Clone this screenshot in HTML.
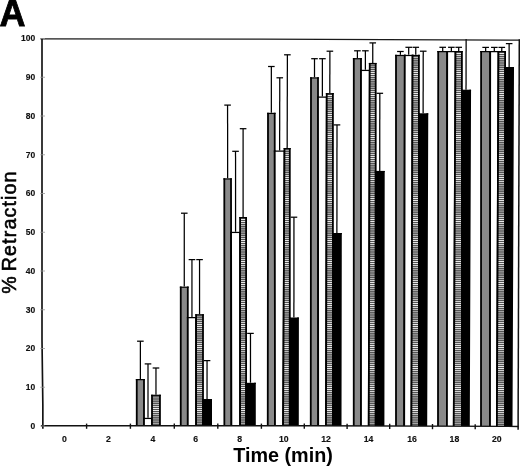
<!DOCTYPE html><html><head><meta charset="utf-8"><style>
html,body{margin:0;padding:0;background:#fff;}
body{width:520px;height:467px;overflow:hidden;}
svg{display:block;}
text{font-family:"Liberation Sans",Arial,sans-serif;}
</style></head><body>
<svg width="520" height="467" viewBox="0 0 520 467">
<defs><pattern id="stripes" patternUnits="userSpaceOnUse" width="8" height="2.1"><rect width="8" height="2.1" fill="#141414"/><rect y="0.5" width="8" height="1.1" fill="#f4f4f4"/></pattern></defs>
<polygon points="136.75,426.00 136.75,379.62 144.00,379.62 144.00,426.00" fill="#898989"/>
<path d="M136.75,426.00L136.75,379.00M144.00,426.00L144.00,379.00" stroke="#000" stroke-width="1.8" fill="none"/>
<line x1="135.85" y1="379.62" x2="144.90" y2="379.62" stroke="#000" stroke-width="1.25"/>
<polygon points="144.00,426.00 144.00,418.43 152.00,418.43 152.00,426.00" fill="#ffffff"/>
<path d="M144.00,426.00L144.00,417.80M152.00,426.00L152.00,417.80" stroke="#000" stroke-width="1.8" fill="none"/>
<line x1="143.10" y1="418.43" x2="152.90" y2="418.43" stroke="#000" stroke-width="1.25"/>
<polygon points="152.00,426.00 152.00,395.32 159.95,395.32 159.95,426.00" fill="url(#stripes)"/>
<path d="M152.00,426.00L152.00,394.70M159.95,426.00L159.95,394.70" stroke="#000" stroke-width="1.8" fill="none"/>
<line x1="151.10" y1="395.32" x2="160.85" y2="395.32" stroke="#000" stroke-width="1.25"/>
<polygon points="180.75,426.00 180.75,287.23 187.80,287.23 187.80,426.00" fill="#898989"/>
<path d="M180.75,426.00L180.75,286.60M187.80,426.00L187.80,286.60" stroke="#000" stroke-width="1.8" fill="none"/>
<line x1="179.85" y1="287.23" x2="188.70" y2="287.23" stroke="#000" stroke-width="1.25"/>
<polygon points="187.80,426.00 187.80,317.62 196.10,317.62 196.10,426.00" fill="#ffffff"/>
<path d="M187.80,426.00L187.80,317.00M196.10,426.00L196.10,317.00" stroke="#000" stroke-width="1.8" fill="none"/>
<line x1="186.90" y1="317.62" x2="197.00" y2="317.62" stroke="#000" stroke-width="1.25"/>
<polygon points="196.10,426.00 196.10,314.82 203.00,314.82 203.00,426.00" fill="url(#stripes)"/>
<path d="M196.10,426.00L196.10,314.20M203.00,426.00L203.00,314.20" stroke="#000" stroke-width="1.8" fill="none"/>
<line x1="195.20" y1="314.82" x2="203.90" y2="314.82" stroke="#000" stroke-width="1.25"/>
<polygon points="203.00,426.00 203.00,399.62 211.10,399.62 211.10,426.00" fill="#000000"/>
<path d="M203.00,426.00L203.00,399.00M211.10,426.00L211.10,399.00" stroke="#000" stroke-width="1.8" fill="none"/>
<line x1="202.10" y1="399.62" x2="212.00" y2="399.62" stroke="#000" stroke-width="1.25"/>
<polygon points="224.36,426.00 224.30,178.93 231.00,178.93 231.40,426.00" fill="#898989"/>
<path d="M224.36,426.00L224.30,178.30M231.40,426.00L231.00,178.30" stroke="#000" stroke-width="1.8" fill="none"/>
<line x1="223.40" y1="178.93" x2="231.90" y2="178.93" stroke="#000" stroke-width="1.25"/>
<polygon points="231.40,426.00 231.09,232.43 240.10,232.43 240.10,426.00" fill="#ffffff"/>
<path d="M231.40,426.00L231.08,231.80M240.10,426.00L240.10,231.80" stroke="#000" stroke-width="1.8" fill="none"/>
<line x1="230.19" y1="232.43" x2="241.00" y2="232.43" stroke="#000" stroke-width="1.25"/>
<polygon points="240.10,426.00 240.10,217.62 246.10,217.62 246.10,426.00" fill="url(#stripes)"/>
<path d="M240.10,426.00L240.10,217.00M246.10,426.00L246.10,217.00" stroke="#000" stroke-width="1.8" fill="none"/>
<line x1="239.20" y1="217.62" x2="247.00" y2="217.62" stroke="#000" stroke-width="1.25"/>
<polygon points="246.10,426.00 246.10,383.43 254.88,383.43 254.90,426.00" fill="#000000"/>
<path d="M246.10,426.00L246.10,382.80M254.90,426.00L254.88,382.80" stroke="#000" stroke-width="1.8" fill="none"/>
<line x1="245.20" y1="383.43" x2="255.78" y2="383.43" stroke="#000" stroke-width="1.25"/>
<polygon points="267.75,426.00 268.00,113.42 274.70,113.42 275.00,426.00" fill="#898989"/>
<path d="M267.75,426.00L268.00,112.80M275.00,426.00L274.70,112.80" stroke="#000" stroke-width="1.8" fill="none"/>
<line x1="267.10" y1="113.42" x2="275.60" y2="113.42" stroke="#000" stroke-width="1.25"/>
<polygon points="275.00,426.00 274.74,151.12 284.49,151.12 283.10,426.00" fill="#ffffff"/>
<path d="M275.00,426.00L274.74,150.50M283.10,426.00L284.50,150.50" stroke="#000" stroke-width="1.8" fill="none"/>
<line x1="273.84" y1="151.12" x2="285.39" y2="151.12" stroke="#000" stroke-width="1.25"/>
<polygon points="283.10,426.00 284.51,148.62 289.80,148.62 289.80,426.00" fill="url(#stripes)"/>
<path d="M283.10,426.00L284.51,148.00M289.80,426.00L289.80,148.00" stroke="#000" stroke-width="1.8" fill="none"/>
<line x1="283.61" y1="148.62" x2="290.70" y2="148.62" stroke="#000" stroke-width="1.25"/>
<polygon points="289.80,426.00 289.80,318.12 298.00,318.12 297.90,426.00" fill="#000000"/>
<path d="M289.80,426.00L289.80,317.50M297.90,426.00L298.00,317.50" stroke="#000" stroke-width="1.8" fill="none"/>
<line x1="288.90" y1="318.12" x2="298.90" y2="318.12" stroke="#000" stroke-width="1.25"/>
<polygon points="310.75,426.00 311.00,77.92 318.00,77.92 318.20,426.00" fill="#898989"/>
<path d="M310.75,426.00L311.00,77.30M318.20,426.00L318.00,77.30" stroke="#000" stroke-width="1.8" fill="none"/>
<line x1="310.10" y1="77.92" x2="318.90" y2="77.92" stroke="#000" stroke-width="1.25"/>
<polygon points="318.20,426.00 318.01,97.12 326.75,97.12 326.00,426.00" fill="#ffffff"/>
<path d="M318.20,426.00L318.01,96.50M326.00,426.00L326.75,96.50" stroke="#000" stroke-width="1.8" fill="none"/>
<line x1="317.11" y1="97.12" x2="327.65" y2="97.12" stroke="#000" stroke-width="1.25"/>
<polygon points="326.00,426.00 326.76,93.72 332.90,93.72 332.90,426.00" fill="url(#stripes)"/>
<path d="M326.00,426.00L326.76,93.10M332.90,426.00L332.90,93.10" stroke="#000" stroke-width="1.8" fill="none"/>
<line x1="325.86" y1="93.72" x2="333.80" y2="93.72" stroke="#000" stroke-width="1.25"/>
<polygon points="332.90,426.00 332.90,233.62 340.90,233.62 340.60,426.00" fill="#000000"/>
<path d="M332.90,426.00L332.90,233.00M340.60,426.00L340.90,233.00" stroke="#000" stroke-width="1.8" fill="none"/>
<line x1="332.00" y1="233.62" x2="341.80" y2="233.62" stroke="#000" stroke-width="1.25"/>
<polygon points="353.75,426.00 353.80,58.73 361.00,58.73 361.00,426.00" fill="#898989"/>
<path d="M353.75,426.00L353.80,58.10M361.00,426.00L361.00,58.10" stroke="#000" stroke-width="1.8" fill="none"/>
<line x1="352.90" y1="58.73" x2="361.90" y2="58.73" stroke="#000" stroke-width="1.25"/>
<polygon points="361.00,426.00 361.00,70.42 369.73,70.42 368.75,426.00" fill="#ffffff"/>
<path d="M361.00,426.00L361.00,69.80M368.75,426.00L369.73,69.80" stroke="#000" stroke-width="1.8" fill="none"/>
<line x1="360.10" y1="70.42" x2="370.63" y2="70.42" stroke="#000" stroke-width="1.25"/>
<polygon points="368.75,426.00 369.75,63.52 375.70,63.52 375.70,426.00" fill="url(#stripes)"/>
<path d="M368.75,426.00L369.75,62.90M375.70,426.00L375.70,62.90" stroke="#000" stroke-width="1.8" fill="none"/>
<line x1="368.85" y1="63.52" x2="376.60" y2="63.52" stroke="#000" stroke-width="1.25"/>
<polygon points="375.70,426.00 375.70,171.53 383.80,171.53 383.50,426.00" fill="#000000"/>
<path d="M375.70,426.00L375.70,170.90M383.50,426.00L383.80,170.90" stroke="#000" stroke-width="1.8" fill="none"/>
<line x1="374.80" y1="171.53" x2="384.70" y2="171.53" stroke="#000" stroke-width="1.25"/>
<polygon points="396.00,426.00 396.00,55.48 404.80,55.48 404.20,426.00" fill="#898989"/>
<path d="M396.00,426.00L396.00,54.85M404.20,426.00L404.80,54.85" stroke="#000" stroke-width="1.8" fill="none"/>
<line x1="395.10" y1="55.48" x2="405.70" y2="55.48" stroke="#000" stroke-width="1.25"/>
<polygon points="404.20,426.00 404.80,55.48 412.60,55.48 411.40,426.00" fill="#ffffff"/>
<path d="M404.20,426.00L404.80,54.85M411.40,426.00L412.60,54.85" stroke="#000" stroke-width="1.8" fill="none"/>
<line x1="403.90" y1="55.48" x2="413.50" y2="55.48" stroke="#000" stroke-width="1.25"/>
<polygon points="411.40,426.00 412.60,55.48 418.90,55.48 418.90,426.00" fill="url(#stripes)"/>
<path d="M411.40,426.00L412.60,54.85M418.90,426.00L418.90,54.85" stroke="#000" stroke-width="1.8" fill="none"/>
<line x1="411.70" y1="55.48" x2="419.80" y2="55.48" stroke="#000" stroke-width="1.25"/>
<polygon points="418.90,426.00 418.90,113.92 427.35,113.92 426.30,426.00" fill="#000000"/>
<path d="M418.90,426.00L418.90,113.30M426.30,426.00L427.36,113.30" stroke="#000" stroke-width="1.8" fill="none"/>
<line x1="418.00" y1="113.92" x2="428.25" y2="113.92" stroke="#000" stroke-width="1.25"/>
<polygon points="438.00,426.00 438.20,51.62 447.20,51.62 446.95,426.00" fill="#898989"/>
<path d="M438.00,426.00L438.20,51.00M446.95,426.00L447.20,51.00" stroke="#000" stroke-width="1.8" fill="none"/>
<line x1="437.30" y1="51.62" x2="448.10" y2="51.62" stroke="#000" stroke-width="1.25"/>
<polygon points="446.95,426.00 447.20,51.62 455.52,51.62 453.75,426.00" fill="#ffffff"/>
<path d="M446.95,426.00L447.20,51.00M453.75,426.00L455.52,51.00" stroke="#000" stroke-width="1.8" fill="none"/>
<line x1="446.30" y1="51.62" x2="456.42" y2="51.62" stroke="#000" stroke-width="1.25"/>
<polygon points="453.75,426.00 455.52,51.62 461.90,51.62 461.90,426.00" fill="url(#stripes)"/>
<path d="M453.75,426.00L455.52,51.00M461.90,426.00L461.90,51.00" stroke="#000" stroke-width="1.8" fill="none"/>
<line x1="454.62" y1="51.62" x2="462.80" y2="51.62" stroke="#000" stroke-width="1.25"/>
<polygon points="461.90,426.00 461.90,90.33 470.15,90.33 468.90,426.00" fill="#000000"/>
<path d="M461.90,426.00L461.90,89.70M468.90,426.00L470.16,89.70" stroke="#000" stroke-width="1.8" fill="none"/>
<line x1="461.00" y1="90.33" x2="471.05" y2="90.33" stroke="#000" stroke-width="1.25"/>
<polygon points="481.00,426.00 481.10,51.62 490.20,51.62 490.00,426.00" fill="#898989"/>
<path d="M481.00,426.00L481.10,51.00M490.00,426.00L490.20,51.00" stroke="#000" stroke-width="1.8" fill="none"/>
<line x1="480.20" y1="51.62" x2="491.10" y2="51.62" stroke="#000" stroke-width="1.25"/>
<polygon points="490.00,426.00 490.20,51.62 498.46,51.62 496.90,426.00" fill="#ffffff"/>
<path d="M490.00,426.00L490.20,51.00M496.90,426.00L498.47,51.00" stroke="#000" stroke-width="1.8" fill="none"/>
<line x1="489.30" y1="51.62" x2="499.36" y2="51.62" stroke="#000" stroke-width="1.25"/>
<polygon points="496.90,426.00 498.46,51.62 505.10,51.62 505.10,426.00" fill="url(#stripes)"/>
<path d="M496.90,426.00L498.47,51.00M505.10,426.00L505.10,51.00" stroke="#000" stroke-width="1.8" fill="none"/>
<line x1="497.56" y1="51.62" x2="506.00" y2="51.62" stroke="#000" stroke-width="1.25"/>
<polygon points="505.10,426.00 505.10,67.62 513.11,67.62 511.60,426.00" fill="#000000"/>
<path d="M505.10,426.00L505.10,67.00M511.60,426.00L513.11,67.00" stroke="#000" stroke-width="1.8" fill="none"/>
<line x1="504.20" y1="67.62" x2="514.01" y2="67.62" stroke="#000" stroke-width="1.25"/>
<line x1="140.38" y1="379.00" x2="140.38" y2="341.20" stroke="#000" stroke-width="1.25"/>
<line x1="137.07" y1="341.20" x2="143.68" y2="341.20" stroke="#000" stroke-width="1.25"/>
<line x1="148.00" y1="417.80" x2="148.00" y2="363.90" stroke="#000" stroke-width="1.25"/>
<line x1="144.70" y1="363.90" x2="151.30" y2="363.90" stroke="#000" stroke-width="1.25"/>
<line x1="155.97" y1="394.70" x2="155.97" y2="368.00" stroke="#000" stroke-width="1.25"/>
<line x1="152.67" y1="368.00" x2="159.28" y2="368.00" stroke="#000" stroke-width="1.25"/>
<line x1="184.27" y1="286.60" x2="184.27" y2="213.20" stroke="#000" stroke-width="1.25"/>
<line x1="180.97" y1="213.20" x2="187.57" y2="213.20" stroke="#000" stroke-width="1.25"/>
<line x1="191.95" y1="317.00" x2="191.95" y2="259.60" stroke="#000" stroke-width="1.25"/>
<line x1="188.65" y1="259.60" x2="195.25" y2="259.60" stroke="#000" stroke-width="1.25"/>
<line x1="199.55" y1="314.20" x2="199.55" y2="259.60" stroke="#000" stroke-width="1.25"/>
<line x1="196.25" y1="259.60" x2="202.85" y2="259.60" stroke="#000" stroke-width="1.25"/>
<line x1="207.05" y1="399.00" x2="207.05" y2="360.60" stroke="#000" stroke-width="1.25"/>
<line x1="203.75" y1="360.60" x2="210.35" y2="360.60" stroke="#000" stroke-width="1.25"/>
<line x1="227.65" y1="178.30" x2="227.58" y2="105.10" stroke="#000" stroke-width="1.25"/>
<line x1="224.28" y1="105.10" x2="230.88" y2="105.10" stroke="#000" stroke-width="1.25"/>
<line x1="235.59" y1="231.80" x2="235.53" y2="151.30" stroke="#000" stroke-width="1.25"/>
<line x1="232.23" y1="151.30" x2="238.83" y2="151.30" stroke="#000" stroke-width="1.25"/>
<line x1="243.10" y1="217.00" x2="243.10" y2="128.70" stroke="#000" stroke-width="1.25"/>
<line x1="239.80" y1="128.70" x2="246.40" y2="128.70" stroke="#000" stroke-width="1.25"/>
<line x1="250.49" y1="382.80" x2="250.48" y2="333.40" stroke="#000" stroke-width="1.25"/>
<line x1="247.18" y1="333.40" x2="253.78" y2="333.40" stroke="#000" stroke-width="1.25"/>
<line x1="271.35" y1="112.80" x2="271.35" y2="66.50" stroke="#000" stroke-width="1.25"/>
<line x1="268.05" y1="66.50" x2="274.65" y2="66.50" stroke="#000" stroke-width="1.25"/>
<line x1="279.62" y1="150.50" x2="279.77" y2="77.80" stroke="#000" stroke-width="1.25"/>
<line x1="276.47" y1="77.80" x2="283.07" y2="77.80" stroke="#000" stroke-width="1.25"/>
<line x1="287.16" y1="148.00" x2="287.39" y2="54.80" stroke="#000" stroke-width="1.25"/>
<line x1="284.09" y1="54.80" x2="290.69" y2="54.80" stroke="#000" stroke-width="1.25"/>
<line x1="293.90" y1="317.50" x2="293.95" y2="217.20" stroke="#000" stroke-width="1.25"/>
<line x1="290.65" y1="217.20" x2="297.25" y2="217.20" stroke="#000" stroke-width="1.25"/>
<line x1="314.50" y1="77.30" x2="314.50" y2="58.70" stroke="#000" stroke-width="1.25"/>
<line x1="311.20" y1="58.70" x2="317.80" y2="58.70" stroke="#000" stroke-width="1.25"/>
<line x1="322.38" y1="96.50" x2="322.41" y2="58.70" stroke="#000" stroke-width="1.25"/>
<line x1="319.11" y1="58.70" x2="325.71" y2="58.70" stroke="#000" stroke-width="1.25"/>
<line x1="329.83" y1="93.10" x2="329.88" y2="51.20" stroke="#000" stroke-width="1.25"/>
<line x1="326.58" y1="51.20" x2="333.18" y2="51.20" stroke="#000" stroke-width="1.25"/>
<line x1="336.90" y1="233.00" x2="336.99" y2="124.90" stroke="#000" stroke-width="1.25"/>
<line x1="333.69" y1="124.90" x2="340.29" y2="124.90" stroke="#000" stroke-width="1.25"/>
<line x1="357.40" y1="58.10" x2="357.40" y2="50.80" stroke="#000" stroke-width="1.25"/>
<line x1="354.10" y1="50.80" x2="360.70" y2="50.80" stroke="#000" stroke-width="1.25"/>
<line x1="365.36" y1="69.80" x2="365.39" y2="50.80" stroke="#000" stroke-width="1.25"/>
<line x1="362.09" y1="50.80" x2="368.69" y2="50.80" stroke="#000" stroke-width="1.25"/>
<line x1="372.72" y1="62.90" x2="372.75" y2="42.90" stroke="#000" stroke-width="1.25"/>
<line x1="369.45" y1="42.90" x2="376.05" y2="42.90" stroke="#000" stroke-width="1.25"/>
<line x1="379.75" y1="170.90" x2="379.80" y2="93.30" stroke="#000" stroke-width="1.25"/>
<line x1="376.50" y1="93.30" x2="383.10" y2="93.30" stroke="#000" stroke-width="1.25"/>
<line x1="400.40" y1="54.85" x2="400.40" y2="51.50" stroke="#000" stroke-width="1.25"/>
<line x1="397.10" y1="51.50" x2="403.70" y2="51.50" stroke="#000" stroke-width="1.25"/>
<line x1="408.70" y1="54.85" x2="408.72" y2="47.30" stroke="#000" stroke-width="1.25"/>
<line x1="405.42" y1="47.30" x2="412.02" y2="47.30" stroke="#000" stroke-width="1.25"/>
<line x1="415.75" y1="54.85" x2="415.76" y2="47.30" stroke="#000" stroke-width="1.25"/>
<line x1="412.46" y1="47.30" x2="419.06" y2="47.30" stroke="#000" stroke-width="1.25"/>
<line x1="423.13" y1="113.30" x2="423.23" y2="51.20" stroke="#000" stroke-width="1.25"/>
<line x1="419.93" y1="51.20" x2="426.53" y2="51.20" stroke="#000" stroke-width="1.25"/>
<line x1="442.70" y1="51.00" x2="442.70" y2="47.30" stroke="#000" stroke-width="1.25"/>
<line x1="439.40" y1="47.30" x2="446.00" y2="47.30" stroke="#000" stroke-width="1.25"/>
<line x1="451.36" y1="51.00" x2="451.37" y2="47.30" stroke="#000" stroke-width="1.25"/>
<line x1="448.07" y1="47.30" x2="454.67" y2="47.30" stroke="#000" stroke-width="1.25"/>
<line x1="458.71" y1="51.00" x2="458.72" y2="47.30" stroke="#000" stroke-width="1.25"/>
<line x1="455.42" y1="47.30" x2="462.02" y2="47.30" stroke="#000" stroke-width="1.25"/>
<line x1="466.03" y1="89.70" x2="466.12" y2="39.00" stroke="#000" stroke-width="1.25"/>
<line x1="485.65" y1="51.00" x2="485.65" y2="47.40" stroke="#000" stroke-width="1.25"/>
<line x1="482.35" y1="47.40" x2="488.95" y2="47.40" stroke="#000" stroke-width="1.25"/>
<line x1="494.33" y1="51.00" x2="494.34" y2="47.40" stroke="#000" stroke-width="1.25"/>
<line x1="491.04" y1="47.40" x2="497.64" y2="47.40" stroke="#000" stroke-width="1.25"/>
<line x1="501.78" y1="51.00" x2="501.79" y2="47.40" stroke="#000" stroke-width="1.25"/>
<line x1="498.49" y1="47.40" x2="505.09" y2="47.40" stroke="#000" stroke-width="1.25"/>
<line x1="509.11" y1="67.00" x2="509.16" y2="43.60" stroke="#000" stroke-width="1.25"/>
<line x1="505.86" y1="43.60" x2="512.46" y2="43.60" stroke="#000" stroke-width="1.25"/>
<polyline points="40.5,38.8 260,39.1 519.8,40.15" fill="none" stroke="#1a1a1a" stroke-width="1.35"/>
<line x1="519.3" y1="39.2" x2="518.1" y2="429.7" stroke="#111" stroke-width="1.5"/>
<polyline points="42.0,38.1 42.0,340 42.85,405 42.85,428.8" fill="none" stroke="#111" stroke-width="1.65"/>
<polyline points="41,425.7 310,425.7 518.5,426.4" fill="none" stroke="#111" stroke-width="1.45"/>
<line x1="86.60" y1="423.60" x2="86.60" y2="428.80" stroke="#111" stroke-width="1.4"/>
<line x1="130.40" y1="423.60" x2="130.40" y2="428.80" stroke="#111" stroke-width="1.4"/>
<line x1="174.30" y1="423.60" x2="174.30" y2="428.80" stroke="#111" stroke-width="1.4"/>
<line x1="217.80" y1="423.60" x2="217.80" y2="428.80" stroke="#111" stroke-width="1.4"/>
<line x1="261.40" y1="423.60" x2="261.40" y2="428.80" stroke="#111" stroke-width="1.4"/>
<line x1="304.30" y1="423.60" x2="304.30" y2="428.80" stroke="#111" stroke-width="1.4"/>
<line x1="347.10" y1="423.72" x2="347.10" y2="428.92" stroke="#111" stroke-width="1.4"/>
<line x1="389.70" y1="423.87" x2="389.70" y2="429.07" stroke="#111" stroke-width="1.4"/>
<line x1="432.50" y1="424.01" x2="432.50" y2="429.21" stroke="#111" stroke-width="1.4"/>
<line x1="475.20" y1="424.15" x2="475.20" y2="429.35" stroke="#111" stroke-width="1.4"/>
<line x1="40.3" y1="426.00" x2="45.0" y2="426.00" stroke="#999" stroke-width="0.8"/>
<text x="35.2" y="428.95" font-size="8.5" font-weight="bold" text-anchor="end" fill="#111" stroke="#111" stroke-width="0.15">0</text>
<line x1="40.3" y1="387.25" x2="45.0" y2="387.25" stroke="#999" stroke-width="0.8"/>
<text x="35.2" y="390.20" font-size="8.5" font-weight="bold" text-anchor="end" fill="#111" stroke="#111" stroke-width="0.15">10</text>
<line x1="40.3" y1="348.50" x2="45.0" y2="348.50" stroke="#999" stroke-width="0.8"/>
<text x="35.2" y="351.45" font-size="8.5" font-weight="bold" text-anchor="end" fill="#111" stroke="#111" stroke-width="0.15">20</text>
<line x1="40.3" y1="309.75" x2="45.0" y2="309.75" stroke="#999" stroke-width="0.8"/>
<text x="35.2" y="312.70" font-size="8.5" font-weight="bold" text-anchor="end" fill="#111" stroke="#111" stroke-width="0.15">30</text>
<line x1="40.3" y1="271.00" x2="45.0" y2="271.00" stroke="#999" stroke-width="0.8"/>
<text x="35.2" y="273.95" font-size="8.5" font-weight="bold" text-anchor="end" fill="#111" stroke="#111" stroke-width="0.15">40</text>
<line x1="40.3" y1="232.25" x2="45.0" y2="232.25" stroke="#999" stroke-width="0.8"/>
<text x="35.2" y="235.20" font-size="8.5" font-weight="bold" text-anchor="end" fill="#111" stroke="#111" stroke-width="0.15">50</text>
<line x1="40.3" y1="193.50" x2="45.0" y2="193.50" stroke="#999" stroke-width="0.8"/>
<text x="35.2" y="196.45" font-size="8.5" font-weight="bold" text-anchor="end" fill="#111" stroke="#111" stroke-width="0.15">60</text>
<line x1="40.3" y1="154.75" x2="45.0" y2="154.75" stroke="#999" stroke-width="0.8"/>
<text x="35.2" y="157.70" font-size="8.5" font-weight="bold" text-anchor="end" fill="#111" stroke="#111" stroke-width="0.15">70</text>
<line x1="40.3" y1="116.00" x2="45.0" y2="116.00" stroke="#999" stroke-width="0.8"/>
<text x="35.2" y="118.95" font-size="8.5" font-weight="bold" text-anchor="end" fill="#111" stroke="#111" stroke-width="0.15">80</text>
<line x1="40.3" y1="77.25" x2="45.0" y2="77.25" stroke="#999" stroke-width="0.8"/>
<text x="35.2" y="80.20" font-size="8.5" font-weight="bold" text-anchor="end" fill="#111" stroke="#111" stroke-width="0.15">90</text>
<line x1="40.3" y1="38.50" x2="45.0" y2="38.50" stroke="#999" stroke-width="0.8"/>
<text x="35.2" y="41.45" font-size="8.5" font-weight="bold" text-anchor="end" fill="#111" stroke="#111" stroke-width="0.15">100</text>
<text x="64.50" y="441.5" font-size="8.7" font-weight="bold" text-anchor="middle" fill="#111" stroke="#111" stroke-width="0.15">0</text>
<text x="108.30" y="441.5" font-size="8.7" font-weight="bold" text-anchor="middle" fill="#111" stroke="#111" stroke-width="0.15">2</text>
<text x="152.90" y="441.5" font-size="8.7" font-weight="bold" text-anchor="middle" fill="#111" stroke="#111" stroke-width="0.15">4</text>
<text x="195.60" y="441.5" font-size="8.7" font-weight="bold" text-anchor="middle" fill="#111" stroke="#111" stroke-width="0.15">6</text>
<text x="239.60" y="441.5" font-size="8.7" font-weight="bold" text-anchor="middle" fill="#111" stroke="#111" stroke-width="0.15">8</text>
<text x="283.80" y="441.5" font-size="8.7" font-weight="bold" text-anchor="middle" fill="#111" stroke="#111" stroke-width="0.15">10</text>
<text x="326.00" y="441.5" font-size="8.7" font-weight="bold" text-anchor="middle" fill="#111" stroke="#111" stroke-width="0.15">12</text>
<text x="368.60" y="441.5" font-size="8.7" font-weight="bold" text-anchor="middle" fill="#111" stroke="#111" stroke-width="0.15">14</text>
<text x="412.00" y="441.5" font-size="8.7" font-weight="bold" text-anchor="middle" fill="#111" stroke="#111" stroke-width="0.15">16</text>
<text x="454.40" y="441.5" font-size="8.7" font-weight="bold" text-anchor="middle" fill="#111" stroke="#111" stroke-width="0.15">18</text>
<text x="496.80" y="441.5" font-size="8.7" font-weight="bold" text-anchor="middle" fill="#111" stroke="#111" stroke-width="0.15">20</text>
<text x="283" y="462.1" font-size="19.8" font-weight="bold" text-anchor="middle" fill="#000">Time (min)</text>
<text transform="translate(15.9,0) rotate(-90)" font-size="19.7" fill="#000" stroke="#000" stroke-width="0.55"><tspan x="-293.7" y="0">% </tspan><tspan x="-271.3" y="0" letter-spacing="1.12">Retraction</tspan></text>
<text x="-0.6" y="25.6" font-size="36" font-weight="bold" fill="#000" stroke="#000" stroke-width="0.8">A</text>
</svg></body></html>
